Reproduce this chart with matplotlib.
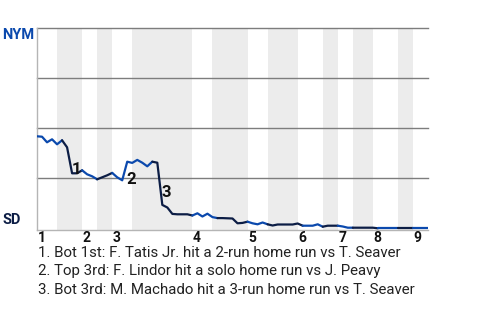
import matplotlib
matplotlib.use("Agg")
from matplotlib import pyplot as plt

plt.rcParams['font.family'] = ['Roboto', 'DejaVu Sans']

# NYM win probability after each plate appearance (index 0 = first pitch)
win_prob = [0.46, 0.458, 0.43, 0.445, 0.42, 0.44, 0.405, 0.275, 0.275, 0.29,
            0.27, 0.26, 0.245, 0.255, 0.265, 0.277, 0.255, 0.24, 0.333, 0.327,
            0.342, 0.328, 0.31, 0.333, 0.328, 0.117, 0.104, 0.072, 0.07, 0.07,
            0.07, 0.064, 0.075, 0.059, 0.073, 0.056, 0.051, 0.051, 0.05, 0.049,
            0.025, 0.027, 0.033, 0.025, 0.02, 0.029, 0.02, 0.014, 0.019, 0.019,
            0.019, 0.019, 0.024, 0.013, 0.013, 0.013, 0.02, 0.008, 0.013, 0.013,
            0.013, 0.009, 0.003, 0.003, 0.003, 0.003, 0.003, 0.003, 0.0, 0.0,
            0.0, 0.0, 0.0, 0.0, 0.0, 0.0, 0.0, 0.0, 0.0]

# plate appearances per half inning (top 1st, bot 1st, ..., top 9th)
half_inning_pas = [4, 5, 3, 3, 4, 12, 4, 7, 4, 6, 5, 3, 3, 4, 5, 3, 3]

# stretches of the line drawn in SD colour (play index ranges)
sd_segments = [(5, 9), (12, 15), (23, 31), (36, 42), (46, 53), (57, 60), (63, 68), (72, 75)]

# key plays (index of the plate appearance) and their notes
events = [7, 18, 25]
event_notes = [
    "Bot 1st: F. Tatis Jr. hit a 2-run home run vs T. Seaver",
    "Top 3rd: F. Lindor hit a solo home run vs J. Peavy",
    "Bot 3rd: M. Machado hit a 3-run home run vs T. Seaver",
]

teams = ["NYM", "SD"]
nym_blue = '#0b49ad'
sd_navy = '#0c1d45'

fig = plt.figure(figsize=(4.8, 3.2), dpi=100)
ax = fig.add_axes([37 / 480, 1 - 230 / 320, 391 / 480, 201.7 / 320])

n = len(win_prob) - 1
ax.set_xlim(0, n)
ax.set_ylim(-0.0085, 1.0)

# half-inning boundaries
bounds = [0]
for c in half_inning_pas:
    bounds.append(bounds[-1] + c)
for k in range(1, len(half_inning_pas), 2):
    ax.axvspan(bounds[k], bounds[k + 1], color='#ececec', lw=0, zorder=0)

for y in [0.25, 0.5, 0.75, 1.0]:
    ax.axhline(y, color='#7d7d7d', lw=1, clip_on=False, zorder=1)

for side in ['top', 'right']:
    ax.spines[side].set_visible(False)
for side in ['left', 'bottom']:
    ax.spines[side].set_color('#b5b5b5')
    ax.spines[side].set_linewidth(1)
ax.set_xticks([])
ax.set_yticks([])

# line, coloured in runs
seg_colors = []
for j in range(n):
    dark = any(a <= j < b for a, b in sd_segments)
    seg_colors.append(sd_navy if dark else nym_blue)
start = 0
for j in range(1, n + 1):
    if j == n or seg_colors[j] != seg_colors[start]:
        xs = list(range(start, j + 1))
        ax.plot(xs, win_prob[start:j + 1], color=seg_colors[start], lw=1.6,
                solid_joinstyle='round', solid_capstyle='round', zorder=3)
        start = j

# event numbers
for k, p in enumerate(events):
    xm = p - 0.5
    ym = (win_prob[p - 1] + win_prob[p]) / 2
    ax.annotate(str(k + 1), (xm, ym), xytext=(1.5, -1.0), textcoords='offset points',
                ha='left', va='top', fontsize=12, fontweight='bold', color='#111111',
                zorder=4)

# inning numbers
for i in range(9):
    ax.annotate(str(i + 1), (bounds[2 * i], 0), xycoords=('data', 'axes fraction'),
                xytext=(0.3, -8.6), textcoords='offset points', ha='left', va='baseline',
                fontsize=10, fontweight='bold', color='#111111')

# team labels
fig.text(2.5 / 480, 1 - 39 / 320, teams[0], color=nym_blue, fontsize=10.5,
         fontweight='bold', va='baseline')
fig.text(2.5 / 480, 1 - 224.5 / 320, teams[1], color=sd_navy, fontsize=10.5,
         fontweight='bold', va='baseline')

# notes
for k, note in enumerate(event_notes):
    fig.text(38 / 480, 1 - (257 + 18.3 * k) / 320, f"{k + 1}. {note}",
             fontsize=10.8, color='#222222', va='baseline')

fig.savefig('out.png', dpi=100)
